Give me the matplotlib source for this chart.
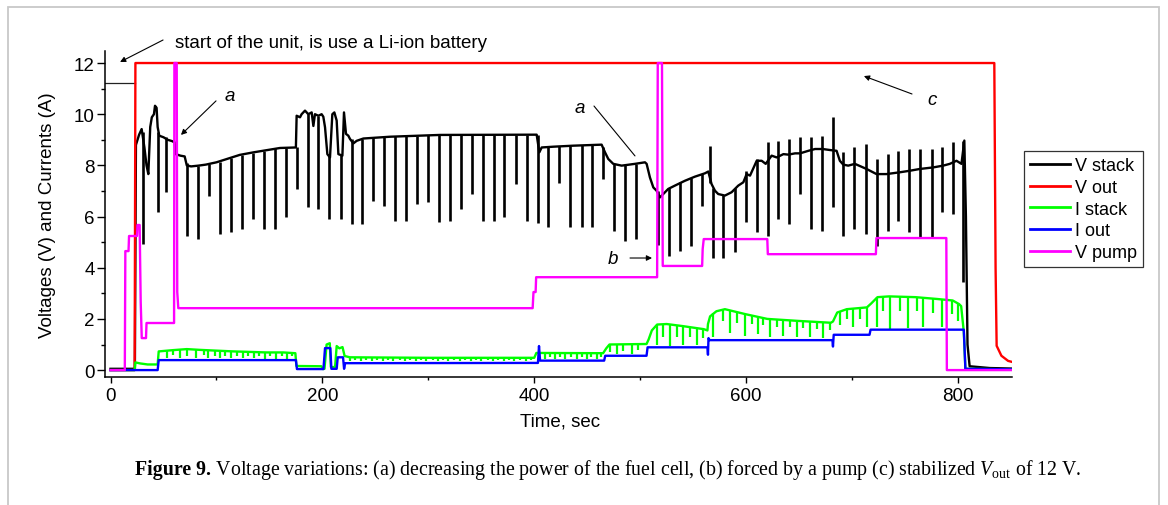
import matplotlib
matplotlib.use('Agg')
import matplotlib.pyplot as plt
from matplotlib.lines import Line2D
from matplotlib.patches import Rectangle

plt.rcParams['font.family'] = ['Liberation Sans', 'DejaVu Sans']
plt.rcParams['mathtext.fontset'] = 'custom'
plt.rcParams['mathtext.rm'] = 'Liberation Serif'
plt.rcParams['mathtext.it'] = 'Liberation Serif:italic'
plt.rcParams['mathtext.bf'] = 'Liberation Serif:bold'

# ---------------- data (time in s, value in V or A) ----------------
vstack_pts = [(0, 0.05), (23, 0.05), (24, 8.8), (27, 9.2), (29.4, 9.42), (32, 8.7), (34, 8.0),
              (35.7, 7.66), (37.5, 9.5), (39, 9.88), (41, 10.0), (42, 10.33), (43.5, 10.25),
              (44.5, 9.5), (46, 9.16), (50, 9.1), (54, 9.0), (58, 8.95), (60.5, 8.9), (61.5, 8.44),
              (66, 8.38), (70, 8.35), (72, 8.0), (76, 7.96), (83, 7.99), (90, 8.03), (100, 8.12),
              (110, 8.25), (122, 8.41), (135, 8.51), (148, 8.60), (160, 8.68), (175, 8.70),
              (175.7, 9.94), (178.9, 9.88), (180.4, 10.0), (183.6, 10.14), (186.7, 10.0),
              (189.9, 10.07), (191.5, 9.54), (193, 10.0), (196.2, 9.94), (199.3, 10.0),
              (200.9, 9.9), (202.5, 9.49), (204.7, 8.44), (207.2, 8.31), (209.4, 10.0),
              (211.3, 10.07), (213.5, 9.75), (215.1, 8.44), (218.9, 8.38), (220.4, 10.07),
              (222.3, 9.23), (224.5, 9.16), (226.1, 9.03), (229.3, 8.86), (232.4, 8.96),
              (238.7, 9.05), (263.9, 9.12), (311.1, 9.19), (402.3, 9.2), (404.8, 8.51),
              (407, 8.70), (418, 8.73), (436.9, 8.77), (463.6, 8.81), (466.8, 8.51), (469.9, 8.25),
              (474.6, 8.06), (482.5, 7.99), (495.1, 8.06), (504.5, 8.12), (506.1, 8.06),
              (509.2, 7.53), (512.4, 7.14), (515.5, 7.01), (518.7, 6.75), (521.8, 6.88),
              (526.5, 7.08), (532.8, 7.21), (542.3, 7.40), (551.7, 7.56), (561.1, 7.69),
              (564.3, 7.76), (567.4, 7.27), (570.6, 7.01), (573.7, 6.88), (580, 6.82),
              (586.3, 6.95), (592.6, 7.21), (597.4, 7.34), (600.5, 7.66), (603.7, 7.60),
              (610, 8.18), (614.7, 8.18), (618.5, 8.06), (624.1, 8.38), (628.9, 8.31),
              (635.2, 8.44), (639.9, 8.42), (646.2, 8.47), (650.9, 8.47), (658.8, 8.57),
              (665.1, 8.64), (672.2, 8.64), (679.2, 8.60), (685.4, 8.57), (688.5, 8.18),
              (691.7, 8.03), (696.4, 7.99), (702.7, 8.06), (713.7, 7.86), (723.1, 7.66),
              (732.5, 7.66), (745.1, 7.73), (754.5, 7.79), (764, 7.86), (776.5, 7.92),
              (786, 7.99), (792.3, 8.06), (798.6, 8.18), (803.3, 8.06), (806, 8.97),
              (807.5, 6.0), (809, 1.0), (811, 0.15), (830, 0.08), (851, 0.06)]

# V stack load pulses: (time, lowest, highest)
vstack_spikes = [(30.7, 4.93, 9.3), (45.1, 6.18, 9.3), (52.1, 6.96, 9.1), (72.5, 5.25, 8.1),
                 (82.9, 5.12, 7.99), (93.3, 6.82, 8.05), (103.4, 5.32, 8.15), (113.8, 5.38, 8.28),
                 (123.8, 5.51, 8.42), (134.2, 5.90, 8.5), (144.9, 5.51, 8.58), (155.3, 5.51, 8.66),
                 (165.7, 5.97, 8.69), (175.7, 7.08, 8.7), (186.1, 6.36, 10.0), (196.2, 6.29, 9.94),
                 (206.3, 5.90, 8.4), (217.3, 5.90, 8.4), (227.6, 5.71, 9.03), (237.7, 5.71, 9.05),
                 (248.1, 6.62, 9.1), (258.5, 6.42, 9.12), (269.0, 5.84, 9.13), (279.2, 5.84, 9.15),
                 (289.6, 6.49, 9.16), (300.0, 6.55, 9.18), (310.4, 5.77, 9.19), (320.5, 5.84, 9.2),
                 (330.8, 6.29, 9.2), (341.2, 6.88, 9.2), (351.6, 5.81, 9.2), (361.9, 5.81, 9.2),
                 (371.8, 5.97, 9.2), (382.4, 7.27, 9.2), (392.8, 5.84, 9.2), (403.2, 5.73, 9.2),
                 (413.3, 5.60, 8.72), (423.7, 7.30, 8.75), (433.7, 5.58, 8.77), (444.7, 5.58, 8.78),
                 (454.8, 5.58, 8.8), (465.2, 7.47, 8.7), (475.6, 5.45, 8.05), (485.7, 5.06, 8.0),
                 (496.1, 5.12, 8.06), (516.5, 4.90, 7.0), (527.5, 4.47, 7.1), (537.6, 4.66, 7.35),
                 (547.6, 4.86, 7.5), (558.0, 6.42, 7.65), (566.0, 7.3, 8.77), (569.0, 4.40, 7.1),
                 (578.5, 4.40, 6.85), (589.5, 4.60, 7.1), (599.6, 5.77, 7.79), (610.0, 5.38, 8.25),
                 (620.4, 5.25, 8.90), (630.4, 5.90, 8.96), (640.8, 5.71, 9.03), (650.8, 6.88, 9.10),
                 (661.2, 5.51, 9.12), (671.3, 5.45, 9.16), (681.7, 6.36, 9.88), (691.7, 5.25, 8.51),
                 (702.1, 5.51, 8.70), (713.1, 5.32, 8.83), (723.2, 4.86, 8.25), (733.6, 5.45, 8.44),
                 (743.6, 5.84, 8.55), (754.0, 5.38, 8.64), (764.1, 5.19, 8.64), (775.1, 5.19, 8.64),
                 (785.2, 6.16, 8.70), (795.5, 6.10, 8.90), (804.5, 3.43, 8.97)]

vout_pts = [(0, 0.0), (22.8, 0.0), (23.5, 12.0), (834.3, 12.0), (835.5, 4.0), (836.5, 0.95),
            (841, 0.56), (847.3, 0.36), (851, 0.32)]

istack_pts = [(0, 0.0), (22.8, 0.0), (23.5, 0.3), (28, 0.26), (35, 0.22), (44.5, 0.22),
              (45.5, 0.73), (59, 0.78), (72, 0.82), (84.5, 0.79), (100, 0.76), (116, 0.73),
              (132, 0.71), (147, 0.69), (163, 0.69), (174.5, 0.66), (175.5, 0.16), (199, 0.15),
              (200.5, 0.04), (202, 0.05), (204, 1.0), (207, 1.05), (208, 0.12), (212, 0.12),
              (213.5, 0.94), (216, 0.85), (219, 0.9), (221, 0.55), (226, 0.5), (300, 0.48),
              (400, 0.48), (402, 0.67), (465, 0.66), (468, 0.85), (471, 1.0), (506, 1.02),
              (508, 1.2), (511, 1.55), (516, 1.78), (525, 1.8), (540, 1.72), (560, 1.6),
              (563.5, 1.55), (564, 1.8), (566, 2.1), (572, 2.3), (580, 2.38), (600, 2.18),
              (620, 2.0), (650, 1.92), (680, 1.85), (682, 1.9), (686, 2.25), (695, 2.38),
              (714, 2.45), (718, 2.6), (724, 2.85), (735, 2.88), (760, 2.85), (780, 2.78),
              (795, 2.72), (801, 2.58), (803, 2.5), (805.5, 1.5), (807, 0.05), (851, 0.03)]

istack_spikes = [(53, 0.48, 0.78), (59, 0.58, 0.78), (66, 0.47, 0.8), (72.5, 0.57, 0.82),
                 (81, 0.46, 0.8), (88, 0.58, 0.79), (92.5, 0.47, 0.78), (98.5, 0.57, 0.76),
                 (103.5, 0.46, 0.76), (108, 0.56, 0.75), (114, 0.46, 0.74), (119, 0.57, 0.73),
                 (125, 0.46, 0.72), (130, 0.56, 0.71), (135, 0.46, 0.7), (140.5, 0.56, 0.7),
                 (146, 0.45, 0.69), (151, 0.56, 0.69), (156, 0.45, 0.69), (161.5, 0.56, 0.69),
                 (166.5, 0.45, 0.68), (171, 0.55, 0.67),
                 (226, 0.37, 0.5), (231, 0.41, 0.49), (236, 0.36, 0.49), (241, 0.41, 0.49),
                 (247, 0.36, 0.49), (252, 0.41, 0.49), (257, 0.36, 0.49), (262, 0.41, 0.49),
                 (267, 0.36, 0.49), (273, 0.41, 0.49), (278, 0.36, 0.48), (283, 0.41, 0.48),
                 (288, 0.36, 0.48), (293, 0.41, 0.48), (298, 0.36, 0.48), (304, 0.41, 0.48),
                 (309, 0.36, 0.48), (314, 0.41, 0.48), (319, 0.36, 0.48), (324, 0.41, 0.48),
                 (330, 0.36, 0.48), (335, 0.41, 0.48), (340, 0.36, 0.48), (345, 0.41, 0.48),
                 (350, 0.36, 0.48), (356, 0.41, 0.48), (361, 0.36, 0.48), (366, 0.41, 0.48),
                 (371, 0.36, 0.48), (376, 0.41, 0.48), (381, 0.36, 0.48), (387, 0.41, 0.48),
                 (392, 0.36, 0.48), (397, 0.41, 0.48),
                 (410, 0.45, 0.67), (415, 0.5, 0.67), (420, 0.43, 0.67), (424.3, 0.5, 0.67),
                 (429, 0.43, 0.67), (435, 0.5, 0.67), (440, 0.43, 0.66), (445, 0.5, 0.66),
                 (449.5, 0.43, 0.66), (454, 0.5, 0.66), (459, 0.43, 0.66), (463, 0.5, 0.66),
                 (471.5, 0.7, 1.0), (478, 0.63, 1.01), (484.1, 0.75, 1.01), (492, 0.63, 1.02),
                 (498.3, 0.8, 1.02),
                 (515.5, 1.0, 1.78), (521.8, 1.3, 1.8), (528.1, 0.95, 1.79), (534.4, 1.3, 1.76),
                 (540.7, 0.97, 1.72), (547, 1.3, 1.68), (553.3, 1.0, 1.64), (559.6, 1.25, 1.6),
                 (569, 1.3, 2.22), (578.5, 1.9, 2.38), (584.8, 1.45, 2.33), (591.1, 1.85, 2.26),
                 (598.9, 1.35, 2.2), (605.2, 1.8, 2.14), (611.5, 1.4, 2.09), (616.2, 1.75, 2.04),
                 (622.5, 1.28, 2.0), (628.8, 1.7, 1.98), (635.1, 1.33, 1.96), (641.4, 1.7, 1.95),
                 (647.7, 1.28, 1.94), (654, 1.65, 1.92), (660.3, 1.3, 1.91), (666.6, 1.62, 1.89),
                 (672.9, 1.25, 1.87), (679.2, 1.55, 1.85),
                 (688.6, 1.75, 2.3), (694.9, 2.0, 2.38), (701.2, 1.7, 2.4), (707.5, 2.0, 2.42),
                 (713.8, 1.68, 2.45),
                 (723.2, 1.7, 2.84), (729.5, 2.3, 2.87), (735.8, 1.6, 2.88), (745.2, 2.3, 2.87),
                 (753, 1.65, 2.86), (760.9, 2.3, 2.85), (767.2, 1.7, 2.83), (776.6, 2.25, 2.8),
                 (784.5, 1.7, 2.77), (793.9, 2.2, 2.73), (800.2, 1.9, 2.6)]

iout_pts = [(0, 0.0), (44.5, 0.0), (45.5, 0.39), (175, 0.39), (176, 0.04), (201, 0.04),
            (202.5, 0.86), (207.5, 0.86), (208.5, 0.05), (213.5, 0.05), (214.5, 0.5),
            (219.5, 0.5), (220.5, 0.05), (221.5, 0.27), (403.5, 0.28), (404.5, 0.94),
            (405.5, 0.37), (466, 0.37), (467, 0.56), (506, 0.56), (507, 0.89), (563.5, 0.89),
            (564, 0.6), (564.5, 1.25), (565.5, 1.17), (681.5, 1.17), (682, 0.92),
            (682.7, 1.38), (716.5, 1.38), (717.5, 1.58), (805.5, 1.58), (807, 0.05),
            (851, 0.03)]

vpump_pts = [(0, 0.0), (13.5, 0.0), (14, 4.65), (17, 4.65), (17.5, 5.24), (25, 5.24),
             (25.5, 5.67), (27.5, 5.67), (28.5, 2.66), (29.5, 1.25), (33.5, 1.25), (34, 1.84),
             (60, 1.84), (60.3, 12.0), (62.5, 12.0), (63, 3.05), (64, 2.42), (398.5, 2.42),
             (399.3, 3.05), (401.3, 3.05), (401.8, 3.63), (516, 3.63), (516.6, 12.0),
             (520.6, 12.0), (521.3, 4.07), (558.5, 4.07), (559, 4.73), (560, 5.12), (620, 5.12),
             (620.5, 4.53), (722.5, 4.53), (723, 5.16), (789, 5.16), (789.5, 0.0), (851, 0.0)]

battery_pts = [(-5.2, 11.2), (23, 11.2)]

series_labels = ['V stack', 'V out', 'I stack', 'I out', 'V pump']
series_colors = ['#000000', '#ff0000', '#00ff00', '#0000ff', '#ff00ff']
x_ticks = [0, 200, 400, 600, 800]
y_ticks = [0, 2, 4, 6, 8, 10, 12]

caption_bold = "Figure 9."
caption_rest = (r" Voltage variations: (a) decreasing the power of the fuel cell, "
                r"(b) forced by a pump (c) stabilized $V_{\mathrm{out}}$ of 12 V.")


def unzip(pts):
    return [p[0] for p in pts], [p[1] for p in pts]


# ---------------- figure ----------------
W, H = 1168, 506
fig = plt.figure(figsize=(W / 100, H / 100), dpi=100)
ax = fig.add_axes([105 / W, 1 - 378 / H, 907 / W, 326 / H])

lw = 1.7
t, v = unzip(vstack_pts)
ax.plot(t, v, color=series_colors[0], lw=lw, zorder=2)
ax.vlines([s[0] for s in vstack_spikes], [s[1] for s in vstack_spikes],
          [s[2] for s in vstack_spikes], colors=series_colors[0], lw=1.9, zorder=2)

t, v = unzip(vout_pts)
ax.plot(t, v, color=series_colors[1], lw=lw, zorder=3)

t, v = unzip(istack_pts)
ax.plot(t, v, color=series_colors[2], lw=lw, zorder=4)
ax.vlines([s[0] for s in istack_spikes], [s[1] for s in istack_spikes],
          [s[2] for s in istack_spikes], colors=series_colors[2], lw=1.6, zorder=4)

t, v = unzip(iout_pts)
ax.plot(t, v, color=series_colors[3], lw=lw, zorder=5)

t, v = unzip(vpump_pts)
ax.plot(t, v, color=series_colors[4], lw=lw, zorder=6)

t, v = unzip(battery_pts)
ax.plot(t, v, color='#222222', lw=0.9, zorder=1)

ax.set_xlim(-5.2, 851)
ax.set_ylim(-0.27, 12.47)
ax.set_xticks(x_ticks)
ax.set_xticks([100, 300, 500, 700], minor=True)
ax.set_yticks(y_ticks)
ax.set_yticks([1, 3, 5, 7, 9, 11], minor=True)
ax.tick_params(axis='x', which='major', length=4.2, width=1, pad=3, labelsize=13.5)
ax.tick_params(axis='x', which='minor', length=2.2, width=1)
ax.tick_params(axis='y', which='major', length=5.8, width=1, pad=1.5, labelsize=13.5)
ax.tick_params(axis='y', which='minor', length=3, width=1)
for side in ['top', 'right']:
    ax.spines[side].set_visible(False)
for side in ['left', 'bottom']:
    ax.spines[side].set_linewidth(1.1)

ax.set_xlabel('Time, sec', fontsize=13.5)
ax.xaxis.set_label_coords(0.502, -0.11)
ax.set_ylabel('Voltages (V) and Currents (A)', fontsize=13.5)
ax.yaxis.set_label_coords(-0.054, 0.5)

# annotations
ap = dict(arrowstyle='-|>', color='black', lw=0.8, mutation_scale=8, shrinkA=0, shrinkB=0)
ax.annotate('', xy=(9.0, 12.04), xytext=(49.6, 12.9), arrowprops=ap, annotation_clip=False)
ax.text(60.9, 12.82, 'start of the unit, is use a Li-ion battery', fontsize=13.5,
        ha='left', va='center', clip_on=False)
ax.annotate('', xy=(66.5, 9.19), xytext=(99.6, 10.52), arrowprops=ap)
ax.text(112.8, 10.75, 'a', fontsize=13.5, style='italic', ha='center', va='center')
ax.annotate('', xy=(495.1, 8.37), xytext=(456.4, 10.32),
            arrowprops=dict(arrowstyle='-', color='black', lw=0.8, shrinkA=0, shrinkB=0))
ax.text(443.2, 10.28, 'a', fontsize=13.5, style='italic', ha='center', va='center')
ax.annotate('', xy=(511.2, 4.38), xytext=(490.4, 4.38), arrowprops=ap)
ax.text(474.3, 4.38, 'b', fontsize=13.5, style='italic', ha='center', va='center')
ax.annotate('', xy=(711.2, 11.49), xytext=(756.6, 10.79), arrowprops=ap)
ax.text(775.4, 10.56, 'c', fontsize=13.5, style='italic', ha='center', va='center')

# legend
handles = [Line2D([], [], color=c, lw=2) for c in series_colors]
leg = fig.legend(handles, series_labels, loc='upper left',
                 bbox_to_anchor=(1024 / W, 1 - 152 / H), fontsize=13,
                 frameon=True, fancybox=False, framealpha=1, edgecolor='#333333',
                 borderpad=0.35, labelspacing=0.26, handlelength=2.2, handletextpad=0.25,
                 borderaxespad=0)
leg.get_frame().set_linewidth(0.9)

# caption (bold lead + regular text) and page border
cap1 = fig.text(135 / W, 1 - 470 / H, caption_bold, family='Liberation Serif',
                fontsize=14.3, weight='bold', ha='left', va='center')
fig.canvas.draw()
bb = cap1.get_window_extent()
fig.text(bb.x1 / W, 1 - 470 / H, caption_rest, family='Liberation Serif', fontsize=14.3,
         ha='left', va='center')
fig.add_artist(Rectangle((8 / W, -0.1), (1159 - 8) / W, 1.1 - 8 / H, transform=fig.transFigure,
                         fill=False, edgecolor='#c8c8c8', lw=1.3))

fig.savefig('out.png', dpi=100)
